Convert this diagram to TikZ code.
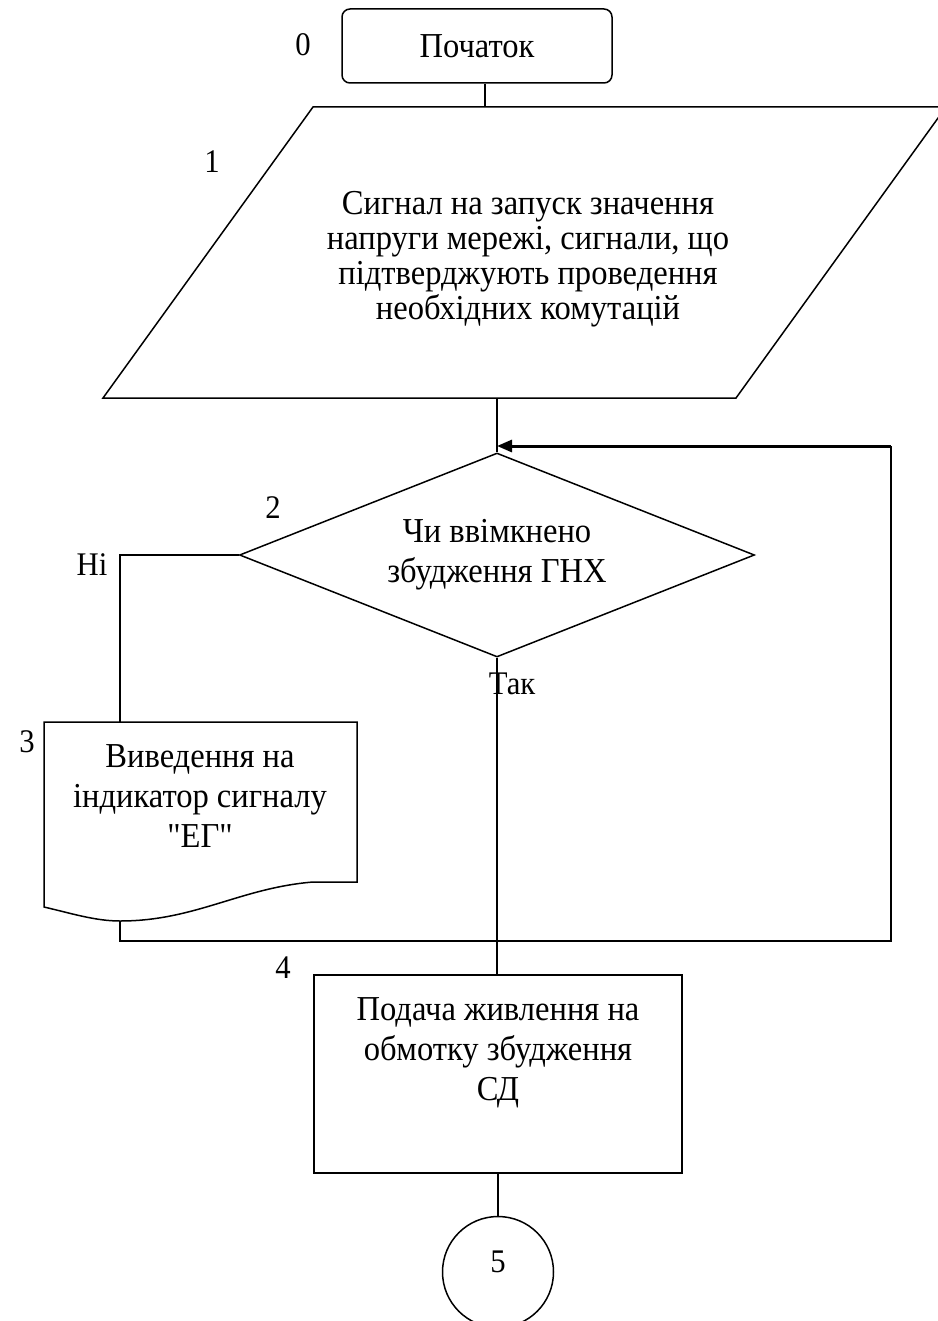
\documentclass[tikz,border=0pt]{standalone}
\usepackage{fontspec}
\setmainfont{Liberation Serif}
\newfontfamily\flowfont[FakeStretch=0.93]{Liberation Serif}
\usetikzlibrary{shapes.geometric,arrows.meta,calc}
\begin{document}
\begin{tikzpicture}[x=1pt,y=-1pt,
  line/.style={draw=black,line width=1.5pt},
  txt/.style={font=\flowfont\fontsize{35}{40}\selectfont,align=center,inner sep=0pt},
  lbl/.style={font=\flowfont\fontsize{33}{36}\selectfont,inner sep=0pt},
  flowarrow/.style={draw=black,line width=3pt,-{Triangle[length=15pt,width=12pt]}},
]
\useasboundingbox (0,0) rectangle (937,1321);
% 0: start
\node[line, rounded corners=8pt, minimum width=270pt, minimum height=74pt, txt] (start) at (477,46) {Початок};
\node[lbl] (l0) at (303,45) {0};
% 1: input parallelogram
\coordinate (pTL) at (313,107);
\coordinate (pTR) at (946,107);
\coordinate (pBR) at (736,398);
\coordinate (pBL) at (103,398);
\draw[line] (pTL) -- (pTR) -- (pBR) -- (pBL) -- cycle;
\node[txt, font=\flowfont\fontsize{35}{35}\selectfont] (ptext) at (528,259) {Сигнал на запуск значення\\напруги мережі, сигнали, що\\підтверджують проведення\\необхідних комутацій};
\node[lbl] (l1) at (212,162) {1};
\coordinate (pin) at (485,107);
\coordinate (pout) at (497,398);
\draw[line] (start.south -| pin) -- (pin);
% 2: decision
\node[diamond, line, aspect=2.5, minimum width=515pt, minimum height=204pt, txt] (dia) at (497,555) {Чи ввімкнено\\збудження ГНХ};
\node[lbl] (l2) at (273,508) {2};
\draw[line] (pout) -- (dia.north);
\node[lbl] (lno) at (92,565) {Ні};
\node[lbl] (lyes) at (512,684) {Так};
% 3: document
\coordinate (dTL) at (44,722);
\coordinate (dTR) at (357,722);
\coordinate (dR) at (357,882);
\coordinate (dW) at (313,882);
\coordinate (docout) at (120,921);
\coordinate (dBL) at (44,907);
\coordinate (docin) at (120,722);
\draw[line] (dTL) -- (dTR) -- (dR) -- (dW) .. controls (240,888) and (195,921) .. (docout) .. controls (95,921) and (70,913) .. (dBL) -- cycle;
\node[txt] (doctext) at (200,796) {Виведення на\\індикатор сигналу\\"ЕГ"};
\node[lbl] (l3) at (27,742) {3};
\draw[line] (dia.west) -| (docin);
% loop back
\coordinate (loopbl) at (120,941);
\coordinate (loopr) at (891,446);
\draw[line] (docout) -- (loopbl) -| (loopr);
\draw[flowarrow] (loopr) -- (dia.north |- loopr);
% 4: process
\node[line, minimum width=368pt, minimum height=198pt, inner sep=0pt] (proc) at (498,1074) {};
\node[txt] (proctext) at (498,1053) {Подача живлення на\\обмотку збудження\\СД};
\node[lbl] (l4) at (283,968) {4};
\draw[line] (dia.south) -- (dia.south |- proc.north);
% 5: connector
\node[circle, line, minimum size=111pt, inner sep=0pt] (conn) at (498,1272) {};
\node[lbl] (c5) at (498,1262) {5};
\draw[line] (proc.south) -- (conn.north);
\end{tikzpicture}
\end{document}
